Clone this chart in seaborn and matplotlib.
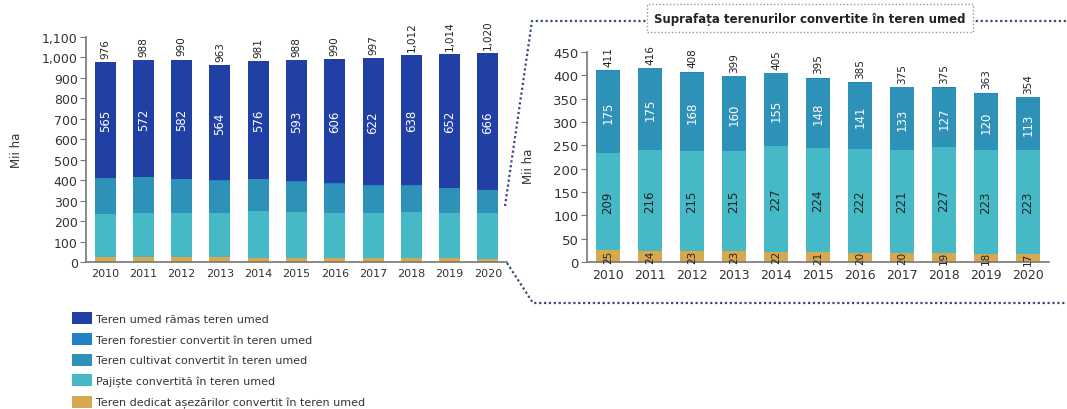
import numpy as np
import matplotlib
matplotlib.use("Agg")
import matplotlib.pyplot as plt
import matplotlib.ticker as mticker
from matplotlib.lines import Line2D
from matplotlib.patches import Patch
import seaborn as sns

years = ["2010", "2011", "2012", "2013", "2014", "2015", "2016", "2017", "2018", "2019", "2020"]

# components (mii ha)
settlements = [25, 24, 23, 23, 22, 21, 20, 20, 19, 18, 17]
grassland = [209, 216, 215, 215, 227, 224, 222, 221, 227, 223, 223]
cropland = [175, 175, 168, 160, 155, 148, 141, 133, 127, 120, 113]
forest = [2, 1, 2, 1, 1, 2, 2, 1, 2, 2, 1]
remaining = [565, 572, 582, 564, 576, 593, 606, 622, 638, 652, 666]

# labels printed on top of the bars
total_converted = [411, 416, 408, 399, 405, 395, 385, 375, 375, 363, 354]
total_wetland = [976, 988, 990, 963, 981, 988, 990, 997, 1012, 1014, 1020]

labels = [
    "Teren umed rămas teren umed",
    "Teren forestier convertit în teren umed",
    "Teren cultivat convertit în teren umed",
    "Pajiște convertită în teren umed",
    "Teren dedicat așezărilor convertit în teren umed",
]
colors = ["#2140a6", "#2282c8", "#2e92b8", "#46b9c6", "#d8a84e"]

sns.set_style("white")
plt.rcParams["font.family"] = ["DejaVu Sans"]

W, H = 1067, 410
fig = plt.figure(figsize=(W / 100, H / 100), dpi=100)


def px_axes(x0, x1, y_top, y_bot):
    return fig.add_axes([x0 / W, 1 - y_bot / H, (x1 - x0) / W, (y_bot - y_top) / H])


def stacked(ax, layers, cols):
    # layers bottom -> top; draw cumulative bars from tallest down
    cum = np.cumsum(np.array(layers), axis=0)
    for i in range(len(layers) - 1, -1, -1):
        sns.barplot(x=years, y=cum[i], color=cols[i], width=0.55,
                    saturation=1, ax=ax, linewidth=0)
    return cum


def style_axis(ax, ymax, step, ytick_size, xtick_size):
    ax.set_ylim(0, ymax)
    ax.yaxis.set_major_locator(mticker.MultipleLocator(step))
    ax.yaxis.set_major_formatter(mticker.FuncFormatter(lambda v, p: f"{v:,.0f}"))
    sns.despine(ax=ax)
    for s in ["left", "bottom"]:
        ax.spines[s].set_color("#777777")
        ax.spines[s].set_linewidth(1.2)
    ax.tick_params(axis="y", length=4, color="#777777", labelsize=ytick_size,
                   labelcolor="#333333", pad=2, left=True)
    ax.tick_params(axis="x", length=0, labelsize=xtick_size, labelcolor="#333333", pad=4)
    ax.set_xlabel("")
    ax.set_ylabel("Mii ha", fontsize=8.5, color="#333333")


# ---- left chart: total wetland area
ax1 = px_axes(86, 507, 38, 263)
cum1 = stacked(ax1, [settlements, grassland, cropland, forest, remaining],
               colors[::-1])
style_axis(ax1, 1100, 100, 9, 8)
ax1.yaxis.set_label_coords(-0.15, 0.5)
for i in range(len(years)):
    ax1.annotate(f"{total_wetland[i]:,}", (i, cum1[-1][i]), xytext=(0, 3),
                 textcoords="offset points", rotation=90, ha="center",
                 va="bottom", fontsize=7.5, color="#222222")
    mid = cum1[-2][i] + remaining[i] / 2
    ax1.text(i, mid, str(remaining[i]), rotation=90, ha="center", va="center",
             fontsize=8.5, color="white")

# ---- right chart: converted land
ax2 = px_axes(587, 1049, 53, 263)
cum2 = stacked(ax2, [settlements, grassland, cropland, forest], colors[1:][::-1])
style_axis(ax2, 450, 50, 9.5, 9)
ax2.yaxis.set_label_coords(-0.112, 0.46)
for i in range(len(years)):
    ax2.annotate(str(total_converted[i]), (i, cum2[-1][i]), xytext=(0, 3),
                 textcoords="offset points", rotation=90, ha="center",
                 va="bottom", fontsize=7.5, color="#222222")
    ax2.text(i, cum2[1][i] + cropland[i] / 2, str(cropland[i]), rotation=90,
             ha="center", va="center", fontsize=8.5, color="white")
    ax2.text(i, settlements[i] + grassland[i] / 2, str(grassland[i]), rotation=90,
             ha="center", va="center", fontsize=8.5, color="#222222")
    ax2.text(i, settlements[i] / 2, str(settlements[i]), rotation=90,
             ha="center", va="center", fontsize=7.5, color="#222222")

# ---- dotted connectors between the two charts
dot = dict(color="#3a4a78", linewidth=1.6, linestyle=(0, (1, 1.2)))


def fig_line(xs, ys):
    fig.add_artist(Line2D([x / W for x in xs], [1 - y / H for y in ys], **dot))


fig_line([505, 532, 1067], [207, 22, 22])
fig_line([507, 533, 1067], [264, 304, 304])

fig.text(810 / W, 1 - 19 / H, "Suprafața terenurilor convertite în teren umed",
         ha="center", va="center", fontsize=8.5, fontweight="bold", color="#222222",
         bbox=dict(boxstyle="square,pad=0.6", fc="white", ec="#999999",
                   ls=(0, (1, 1.5)), lw=1))

# ---- legend
handles = [Patch(facecolor=c, edgecolor="none") for c in colors]
fig.legend(handles, labels, loc="upper left", bbox_to_anchor=(72 / W, 1 - 313 / H),
           frameon=False, fontsize=8, handlelength=1.8, handleheight=1.3,
           handletextpad=0.35, labelspacing=0.78, borderaxespad=0, borderpad=0,
           labelcolor="#333333")

fig.savefig("out.png", dpi=100)
